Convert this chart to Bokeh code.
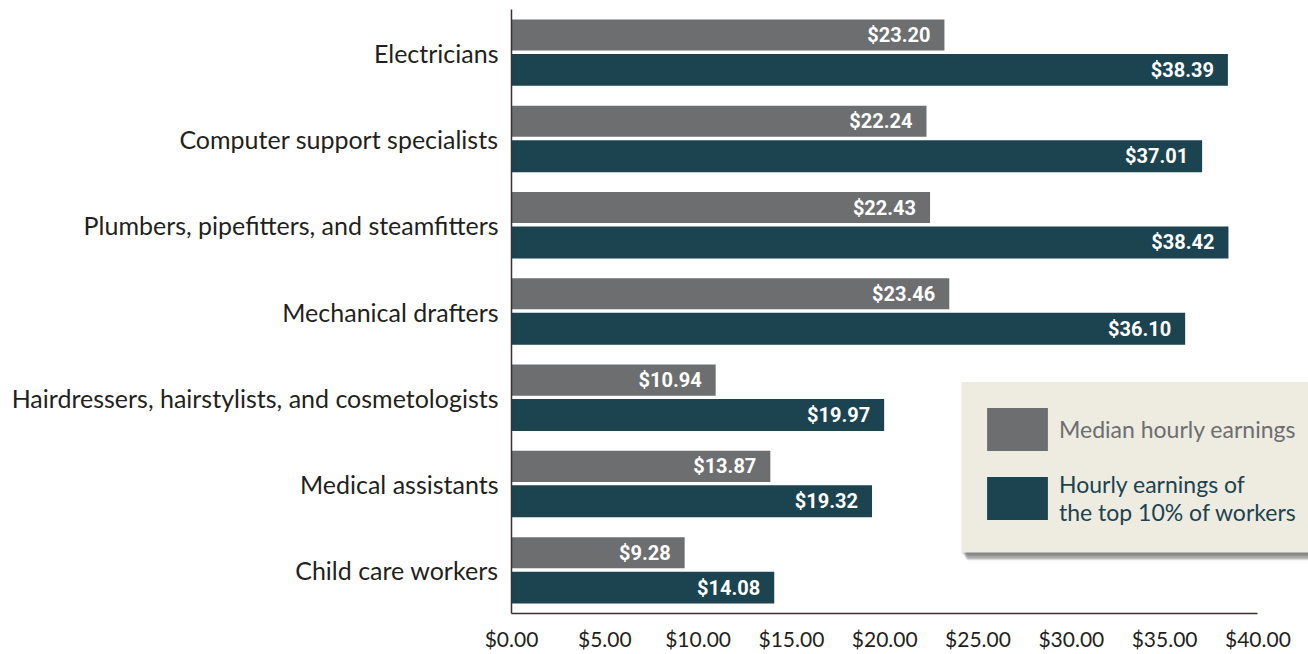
from bokeh.plotting import figure
from bokeh.models import (Range1d, FactorRange, FixedTicker, NumeralTickFormatter,
                          Legend, LegendItem, BoxAnnotation, ColumnDataSource)
from bokeh.transform import dodge
from bokeh.core.properties import value
from bokeh.embed import file_html
from bokeh.resources import INLINE

occupations = [
    "Electricians",
    "Computer support specialists",
    "Plumbers, pipefitters, and steamfitters",
    "Mechanical drafters",
    "Hairdressers, hairstylists, and cosmetologists",
    "Medical assistants",
    "Child care workers",
]
median_hourly = [23.20, 22.24, 22.43, 23.46, 10.94, 13.87, 9.28]
top10_hourly = [38.39, 37.01, 38.42, 36.10, 19.97, 19.32, 14.08]
x_ticks = [0, 5, 10, 15, 20, 25, 30, 35, 40]

series_names = ["Median hourly earnings", "Hourly earnings of\nthe top 10% of workers"]

GREY = "#6D6E70"
TEAL = "#1B4350"
TEXT = "#231F20"
AXIS = "#3B302C"

src = ColumnDataSource(dict(
    occ=occupations,
    median=median_hourly,
    top10=top10_hourly,
    median_label=[f"${v:.2f}" for v in median_hourly],
    top10_label=[f"${v:.2f}" for v in top10_hourly],
))

p = figure(width=1308, height=654,
           y_range=FactorRange(factors=occupations[::-1]),
           x_range=Range1d(0, 42.71),
           output_backend="svg", toolbar_location=None,
           min_border_left=511, min_border_right=0,
           min_border_top=9, min_border_bottom=41)
p.outline_line_color = None
p.xgrid.visible = False
p.ygrid.visible = False

r1 = p.hbar(y=dodge("occ", 0.205, range=p.y_range), left=0, right="median",
            height=0.36, fill_color=GREY, line_color=None, source=src)
r2 = p.hbar(y=dodge("occ", -0.2, range=p.y_range), left=0, right="top10",
            height=0.37, fill_color=TEAL, line_color=None, source=src)

lbl_kw = dict(text_align="right", text_baseline="middle", text_color="white",
              text_font=value("Roboto"), text_font_style="bold",
              text_font_size="20px", x_offset=-14)
p.text(x="median", y=dodge("occ", 0.205, range=p.y_range), text="median_label",
       source=src, **lbl_kw)
p.text(x="top10", y=dodge("occ", -0.2, range=p.y_range), text="top10_label",
       source=src, **lbl_kw)

# axes
for ax in (p.xaxis, p.yaxis):
    ax.axis_line_color = AXIS
    ax.axis_line_width = 1.5
    ax.major_tick_line_color = None
    ax.minor_tick_line_color = None
    ax.major_label_text_font = "Lato"
    ax.major_label_text_color = TEXT
p.yaxis.major_label_text_font_size = "25px"
p.xaxis.major_label_text_font_size = "21px"
p.yaxis.major_label_standoff = 7
p.xaxis.major_label_standoff = 6
p.xaxis.ticker = FixedTicker(ticks=x_ticks)
p.xaxis.formatter = NumeralTickFormatter(format="$0.00")
p.xaxis.bounds = (0, 40)

# legend panel with soft shadow
def screen_box(l, r, b, t, **kw):
    return BoxAnnotation(left=l, right=r, bottom=b, top=t,
                         left_units="screen", right_units="screen",
                         bottom_units="screen", top_units="screen",
                         line_color=None, **kw)

for dx, dy, a in [(6, 8, 0.12), (5, 7, 0.18), (4, 6, 0.25), (3, 4, 0.3), (1, 2, 0.25)]:
    p.add_layout(screen_box(450 + dx, 900, 61 - dy, 231 - dy + 2,
                            fill_color="#555555", fill_alpha=a))
p.add_layout(screen_box(450, 900, 61, 231, fill_color="#EEEBE1", fill_alpha=1.0))

leg_kw = dict(glyph_width=76, glyph_height=54, label_standoff=4, padding=0, margin=0,
              spacing=0, background_fill_alpha=0, border_line_alpha=0,
              label_text_font="Lato", label_text_font_size="23px",
              label_text_line_height=1.15)
leg1 = Legend(items=[LegendItem(label=series_names[0], renderers=[r1])],
              location=(468, 157), label_text_color=GREY, **leg_kw)
leg2 = Legend(items=[LegendItem(label=series_names[1], renderers=[r2])],
              location=(468, 87), label_text_color=TEAL, **leg_kw)
p.add_layout(leg1)
p.add_layout(leg2)

open("out.html", "w").write(file_html(p, INLINE))
